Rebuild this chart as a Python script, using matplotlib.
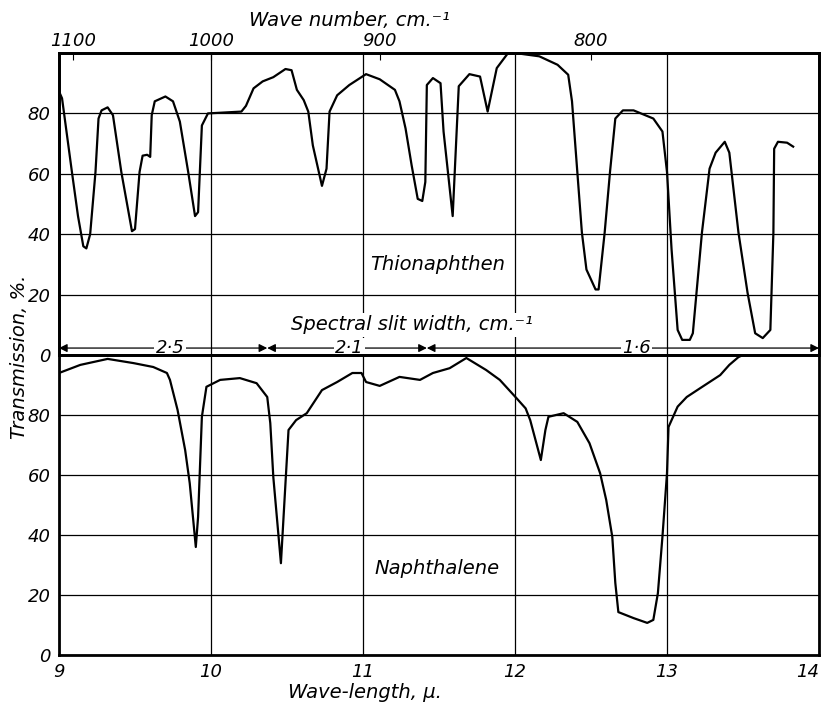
import matplotlib
matplotlib.use("Agg")
from matplotlib import pyplot as plt

# Thionaphthen (top panel) - wave-length in microns, transmission in %
thio_wl = [9.0, 9.02, 9.085, 9.125, 9.16, 9.18, 9.205, 9.24, 9.26, 9.28, 9.32, 9.355, 9.41,
           9.48, 9.50, 9.53, 9.55, 9.58, 9.60, 9.61, 9.63, 9.70, 9.75, 9.795, 9.85, 9.895,
           9.915, 9.94, 9.98, 10.20, 10.23, 10.28, 10.34, 10.41, 10.49, 10.53, 10.565, 10.61,
           10.64, 10.67, 10.73, 10.76, 10.78, 10.83, 10.91, 11.02, 11.11, 11.21, 11.24, 11.28,
           11.32, 11.36, 11.39, 11.41, 11.42, 11.46, 11.51, 11.53, 11.59, 11.63, 11.70, 11.77,
           11.82, 11.88, 11.95, 12.0, 12.16, 12.28, 12.35, 12.375, 12.41, 12.44, 12.47, 12.53,
           12.55, 12.59, 12.625, 12.66, 12.71, 12.78, 12.91, 12.97, 13.0, 13.03, 13.07, 13.10,
           13.15, 13.17, 13.23, 13.28, 13.32, 13.38, 13.41, 13.47, 13.53, 13.58, 13.63, 13.68,
           13.70, 13.705, 13.73, 13.79, 13.83]
thio_tr = [87.3, 85, 60.6, 46, 36, 35.3, 40, 60.6, 78.3, 81, 82, 79.4, 60.6,
           41, 41.7, 60.6, 66, 66.3, 65.6, 79.4, 84, 85.6, 84, 77.3, 60.6, 46,
           47.3, 76, 80, 80.6, 82.5, 88.3, 90.6, 92, 94.7, 94.3, 87.8, 84.4,
           80.6, 69.4, 56, 61.7, 80.6, 86, 89.4, 93, 91.3, 87.8, 84, 75,
           62.8, 51.7, 51, 57.3, 89.4, 91.7, 90, 74, 46, 89, 93, 92.2,
           80.6, 95, 99.7, 100, 98.9, 96.1, 92.8, 84, 60.6, 40.6, 28.3, 21.7,
           21.7, 40.6, 60.6, 78.3, 81, 81, 78.3, 74, 60.6, 35, 8.3, 5,
           5, 7.2, 40.6, 61.7, 67, 70.6, 67, 40.6, 20.6, 7.2, 5.6, 8.3,
           40.6, 68.3, 70.6, 70.3, 69]

# Naphthalene (bottom panel)
naph_wl = [9.0, 9.14, 9.32, 9.49, 9.62, 9.71, 9.73, 9.78, 9.83, 9.86, 9.90, 9.915, 9.94,
           9.97, 10.06, 10.19, 10.30, 10.37, 10.39, 10.41, 10.46, 10.49, 10.51, 10.56, 10.63,
           10.73, 10.83, 10.93, 10.99, 11.02, 11.11, 11.24, 11.375, 11.46, 11.57, 11.68, 11.81,
           11.90, 12.01, 12.07, 12.10, 12.17, 12.20, 12.22, 12.32, 12.41, 12.49, 12.56, 12.60,
           12.64, 12.66, 12.68, 12.78, 12.87, 12.91, 12.94, 12.97, 13.0, 13.01, 13.07, 13.13,
           13.22, 13.35, 13.41, 13.47, 13.5, 14.0]
naph_tr = [94, 96.7, 98.7, 97.3, 96, 94, 91.7, 81.7, 68.3, 57.3, 36, 46, 79.4,
           89.4, 91.7, 92.3, 90.6, 86, 77.3, 59.3, 30.6, 57.3, 75, 78.3, 80.6,
           88.3, 91, 94, 94, 91, 89.7, 92.7, 91.7, 94, 95.6, 99, 95,
           91.7, 85.6, 82.2, 78.3, 65, 75, 79.4, 80.6, 77.7, 70.6, 60.6, 51.7,
           39.4, 24, 14.3, 12.3, 10.7, 11.7, 20.6, 39.4, 60.6, 76, 82.8, 86,
           89, 93.3, 96.7, 99.3, 100, 100]

wave_numbers = [1100, 1000, 900, 800]
slit_edges = [9.0, 10.37, 11.42, 14.0]
slit_labels = ["2·5", "2·1", "1·6"]
slit_label_x = [9.73, 10.91, 12.80]

plt.rcParams['font.family'] = ['DejaVu Sans']
plt.rcParams['font.style'] = 'italic'
plt.rcParams['font.size'] = 13

fig = plt.figure(figsize=(8.27, 7.04), dpi=100)
W, H = 827, 704
ax1 = fig.add_axes([59 / W, 1 - 355 / H, 760 / W, 302 / H])
ax2 = fig.add_axes([59 / W, 1 - 655 / H, 760 / W, 300 / H])

for ax in (ax1, ax2):
    ax.set_xlim(9, 14)
    ax.set_ylim(0, 100)
    ax.set_yticks([0, 20, 40, 60, 80])
    ax.grid(True, color='black', lw=0.9)
    ax.tick_params(length=0, pad=6, labelsize=13)
    for s in ax.spines.values():
        s.set_linewidth(2)

ax1.set_xticks([10, 11, 12, 13])
ax1.set_xticklabels([])
ax2.set_xticks([9, 10, 11, 12, 13, 14])
ax2.set_xticklabels(["9", "10", "11", "12", "13", "14"])
ax2.get_xticklabels()[-1].set_horizontalalignment('right')

ax1.plot(thio_wl, thio_tr, color='black', lw=1.6)
ax2.plot(naph_wl, naph_tr, color='black', lw=1.6)

# wave number scale on top
axt = ax1.twiny()
axt.set_xlim(9, 14)
axt.set_xticks([1e4 / w for w in wave_numbers])
axt.set_xticklabels([str(w) for w in wave_numbers])
axt.tick_params(direction='in', length=5, pad=2, labelsize=13)
for s in axt.spines.values():
    s.set_linewidth(2)

# spectral slit width arrows
for i in range(len(slit_labels)):
    ax1.annotate('', xy=(slit_edges[i], 2.3), xytext=(slit_edges[i + 1], 2.3),
                 arrowprops=dict(arrowstyle='<|-|>', color='black', lw=0.9,
                                 shrinkA=0, shrinkB=0, mutation_scale=12))
    ax1.text(slit_label_x[i], 2.3, slit_labels[i], ha='center', va='center', fontsize=13,
             bbox=dict(facecolor='white', edgecolor='none', pad=1))

ax1.text(11.32, 10, "Spectral slit width, cm.⁻¹", ha='center', va='center', fontsize=14,
         bbox=dict(facecolor='white', edgecolor='none', pad=2))
ax1.text(11.49, 30, "Thionaphthen", ha='center', va='center', fontsize=14,
         bbox=dict(facecolor='white', edgecolor='none', pad=2))
ax2.text(11.49, 29, "Naphthalene", ha='center', va='center', fontsize=14,
         bbox=dict(facecolor='white', edgecolor='none', pad=2))

fig.text(349 / W, 1 - 20 / H, "Wave number, cm.⁻¹", ha='center', va='center', fontsize=14)
fig.text(365 / W, 1 - 692 / H, "Wave-length, µ.", ha='center', va='center', fontsize=14)
fig.text(20 / W, 1 - 357 / H, "Transmission, %.", ha='center', va='center', fontsize=14,
         rotation=90)

plt.savefig("out.png", dpi=100)
plt.close()
